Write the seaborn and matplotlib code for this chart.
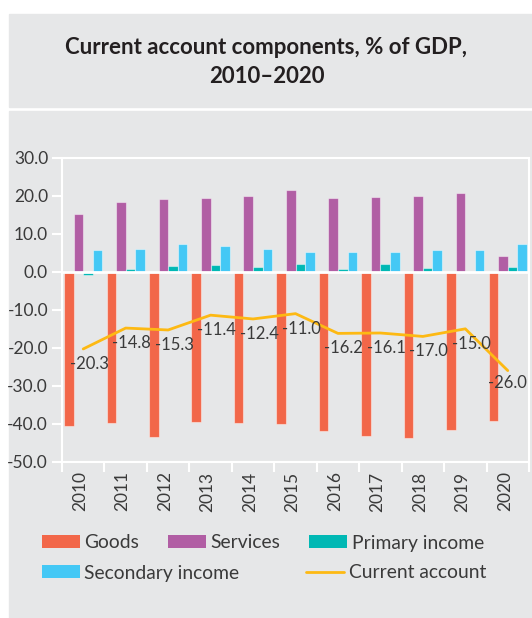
import numpy as np
import pandas as pd
import matplotlib
matplotlib.use("Agg")
import matplotlib.pyplot as plt
from matplotlib.patches import Rectangle, Patch
from matplotlib.lines import Line2D
from matplotlib.ticker import FixedLocator
import matplotlib.transforms as mtransforms
import seaborn as sns

years = ["2010", "2011", "2012", "2013", "2014", "2015",
         "2016", "2017", "2018", "2019", "2020"]
goods = [-40.7, -39.9, -43.5, -39.5, -39.7, -40.0, -41.9, -43.2, -43.8, -41.7, -39.2]
services = [15.3, 18.3, 19.3, 19.4, 20.0, 21.6, 19.5, 19.8, 20.1, 20.7, 4.3]
primary_income = [-0.8, 0.7, 1.6, 1.9, 1.2, 2.1, 0.8, 2.0, 1.1, 0.1, 1.4]
secondary_income = [5.8, 6.1, 7.3, 6.8, 6.1, 5.2, 5.3, 5.3, 5.7, 5.7, 7.4]
current_account = [-20.3, -14.8, -15.3, -11.4, -12.4, -11.0, -16.2, -16.1, -17.0, -15.0, -26.0]

components = ["Goods", "Services", "Primary income", "Secondary income"]
colors = {"Goods": "#f26749", "Services": "#b15ea4",
          "Primary income": "#00b8b4", "Secondary income": "#44c8f5"}
line_color = "#fdb913"
panel = "#e6e7e8"
text_color = "#3a3a3a"

sns.set_theme(style="white")
plt.rcParams["font.family"] = ["Lato", "DejaVu Sans"]
plt.rcParams["axes.unicode_minus"] = False

df = pd.DataFrame({
    "year": np.repeat(years, 4),
    "component": components * len(years),
    "value": np.ravel(np.column_stack([goods, services, primary_income, secondary_income])),
})

fig = plt.figure(figsize=(5.32, 6.18), dpi=100)
fig.patch.set_facecolor("white")
W, H = 532, 618
fig.add_artist(Rectangle((9 / W, 1 - 107 / H), (W - 9) / W, 93 / H,
                         transform=fig.transFigure, color=panel, zorder=0))
fig.add_artist(Rectangle((9 / W, 0), (W - 9) / W, (H - 111) / H,
                         transform=fig.transFigure, color=panel, zorder=0))

fig.text(266 / W, 1 - 48 / H, "Current account components, % of GDP,",
         ha="center", va="center", fontsize=16, fontweight="bold", color="#231f20")
fig.text(267 / W, 1 - 76.5 / H, "2010\u20132020",
         ha="center", va="center", fontsize=16, fontweight="bold", color="#231f20")

ax = fig.add_axes([62 / W, 1 - 461.7 / H, (529 - 62) / W, (461.7 - 158) / H])
ax.set_facecolor(panel)

sns.barplot(data=df, x="year", y="value", hue="component", hue_order=components,
            palette=colors, width=0.9, ax=ax, legend=False,
            edgecolor=(1, 1, 1, 0.45), linewidth=0.8, saturation=1)

x = np.arange(len(years))
sns.lineplot(x=x, y=current_account, color=line_color, linewidth=2.0, ax=ax, zorder=4)

for i, v in enumerate(current_account):
    dx, dy = (4.3, -10.8) if i < len(years) - 1 else (0, -9)
    ax.annotate(f"{v:.1f}", (i, v), xytext=(dx, dy), textcoords="offset points",
                ha="center", va="center", fontsize=12, color=text_color, zorder=5)

ax.axhline(0, color="white", linewidth=2.0, zorder=3)

ax.set_ylim(-50, 30)
ax.set_xlim(-0.5, len(years) - 0.5)
ax.set_yticks(np.arange(-50, 31, 10))
ax.set_yticklabels([f"{t:.1f}" for t in np.arange(-50, 31, 10)])
ax.set_xticks(x)
ax.set_xticklabels(years, rotation=90)
ax.xaxis.set_minor_locator(FixedLocator(np.arange(-0.5, len(years), 1.0)))
ax.tick_params(axis="x", which="major", length=0, pad=7, labelsize=12.5,
               labelcolor=text_color)
ax.tick_params(axis="x", which="minor", length=7, width=1.5, color="white",
               bottom=True)
ax.tick_params(axis="y", length=7, width=1.5, color="white", left=True, pad=3,
               labelsize=12.5, labelcolor=text_color)
shift = mtransforms.ScaledTranslation(-3 / 100, 0, fig.dpi_scale_trans)
for lab in ax.get_xticklabels():
    lab.set_transform(lab.get_transform() + shift)
ax.set_xlabel("")
ax.set_ylabel("")
for s in ax.spines.values():
    s.set_color("white")
    s.set_linewidth(1.5)
    s.set_visible(True)

# legend: two rows
row1 = [Patch(facecolor=colors[c], edgecolor="none", label=c) for c in components[:3]]
row2 = [Patch(facecolor=colors["Secondary income"], edgecolor="none", label="Secondary income"),
        Line2D([0], [0], color=line_color, linewidth=2.0, label="Current account")]
common = dict(frameon=False, loc="center left", borderpad=0, borderaxespad=0,
              handlelength=1.97, handleheight=0.62, handletextpad=0.22,
              prop={"size": 13.9}, labelcolor=text_color)
leg1 = fig.legend(handles=row1, ncol=3, columnspacing=1.5,
                  bbox_to_anchor=(42 / W, 1 - 543 / H), **common)
leg2 = fig.legend(handles=row2, ncol=2, columnspacing=3.47,
                  bbox_to_anchor=(42 / W, 1 - 573 / H), **common)

fig.savefig("out.png", dpi=100)
